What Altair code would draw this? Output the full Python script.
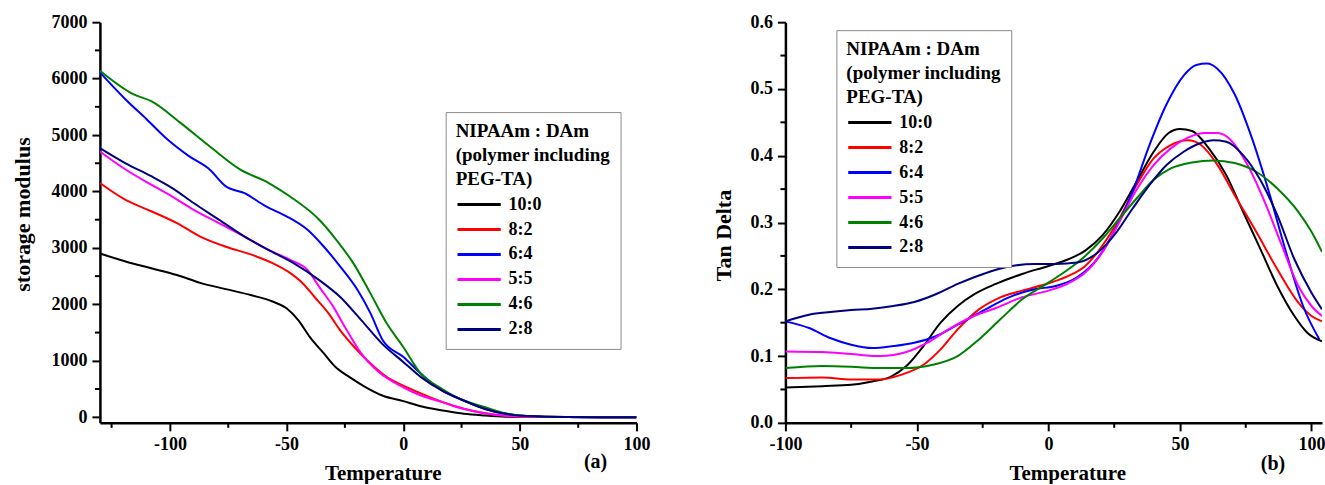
import altair as alt
import pandas as pd

SERIES = ["10:0", "8:2", "6:4", "5:5", "4:6", "2:8"]
COLORS = ["#000000", "#ff0000", "#0000ff", "#ff00ff", "#008000", "#000080"]
LEGEND_TITLE = ["NIPAAm : DAm", "(polymer including", "\u00a0PEG-TA)"]
FONT = "Liberation Serif"

# ---- (a) storage modulus vs temperature ----
sm_t_10_0 = [-130, -119, -108, -97, -87, -76, -65, -56, -50, -45, -40, -34, -29, -23, -16, -9, 0, 8, 17, 26, 35, 44, 55, 70, 85, 100]
sm_v_10_0 = [2900, 2760, 2640, 2520, 2380, 2270, 2160, 2050, 1930, 1720, 1420, 1130, 890, 710, 530, 385, 285, 190, 120, 60, 30, 10, 4, 2, 1, 0]

sm_t_8_2 = [-130, -119, -108, -97, -87, -76, -65, -56, -49, -43, -38, -32, -27, -21, -14, -7, 0, 8, 17, 26, 35, 44, 55, 70, 85, 100]
sm_v_8_2 = [4150, 3850, 3650, 3440, 3200, 3020, 2880, 2730, 2570, 2370, 2130, 1840, 1540, 1245, 950, 710, 560, 415, 267, 150, 70, 25, 8, 3, 1, 0]

sm_t_6_4 = [-130, -119, -110, -101, -92, -83, -76, -68, -59, -50, -41, -34, -27, -19.5, -14, -8.7, 0, 7.6, 16.7, 25.7, 34.8, 43.8, 53, 70, 85, 100]
sm_v_6_4 = [6110, 5630, 5280, 4920, 4630, 4390, 4090, 3970, 3740, 3560, 3320, 3020, 2670, 2250, 1840, 1360, 1070, 770, 470, 300, 150, 60, 20, 3, 1, 0]

sm_t_5_5 = [-130, -119, -108, -99, -90, -79, -68, -58, -48.5, -41, -36, -30, -25, -18, -10.5, 0, 7.6, 16.7, 25.7, 34.8, 43.8, 55, 70, 85, 100]
sm_v_5_5 = [4710, 4390, 4120, 3910, 3680, 3440, 3200, 2970, 2790, 2610, 2310, 1960, 1600, 1130, 800, 530, 385, 267, 150, 70, 25, 8, 3, 1, 0]

sm_t_4_6 = [-130, -115.5, -108, -95.6, -83, -70, -57.6, -48.5, -36, -28.6, -21.4, -14, -7, 0, 7.6, 16.7, 25.7, 34.8, 43.8, 53, 70, 85, 100]
sm_v_4_6 = [6140, 5720, 5600, 5220, 4800, 4390, 4150, 3910, 3500, 3140, 2730, 2190, 1660, 1245, 770, 500, 300, 180, 70, 20, 3, 1, 0]

sm_t_2_8 = [-130, -119, -108, -99, -90, -79, -68, -58, -47, -36, -27, -18, -9, 0, 7.6, 16.7, 25.7, 34.8, 43.8, 53, 70, 85, 100]
sm_v_2_8 = [4770, 4500, 4270, 4060, 3800, 3500, 3200, 2970, 2730, 2430, 2130, 1720, 1300, 980, 710, 470, 300, 150, 60, 20, 3, 1, 0]

# ---- (b) tan delta vs temperature ----
td_t_10_0 = [-100, -86, -75, -67, -60, -54, -47.5, -41, -34.5, -28, -20, -10, 0, 7.6, 14, 20.6, 27, 33.5, 40, 45.7, 50, 54.6, 61, 67.6, 74, 80.5, 87, 93.5, 98.4, 104]
td_v_10_0 = [0.053, 0.055, 0.057, 0.062, 0.069, 0.085, 0.115, 0.150, 0.175, 0.193, 0.208, 0.223, 0.235, 0.245, 0.258, 0.281, 0.316, 0.361, 0.406, 0.434, 0.440, 0.437, 0.411, 0.371, 0.316, 0.261, 0.205, 0.160, 0.135, 0.122]

td_t_8_2 = [-100, -86, -75, -64, -56, -47.5, -41, -34.5, -26.4, -18.3, -10, 0, 7.6, 14, 20.6, 27, 33.5, 40, 46.5, 53, 58, 64.3, 70.8, 79, 87, 95, 100, 104]
td_v_8_2 = [0.067, 0.068, 0.065, 0.065, 0.072, 0.087, 0.110, 0.140, 0.170, 0.188, 0.198, 0.209, 0.220, 0.235, 0.266, 0.306, 0.356, 0.396, 0.416, 0.423, 0.416, 0.386, 0.341, 0.286, 0.230, 0.180, 0.160, 0.152]

td_t_6_4 = [-100, -91, -83, -75, -67, -59, -51, -42.6, -34.5, -24.8, -15, -5.3, 2.8, 10.9, 19, 25.4, 32, 38.4, 44.9, 51.4, 56.2, 60.3, 64.3, 70.8, 77.3, 83.8, 90.3, 96.8, 103]
td_v_6_4 = [0.152, 0.142, 0.127, 0.117, 0.112, 0.115, 0.120, 0.130, 0.147, 0.168, 0.188, 0.200, 0.205, 0.218, 0.248, 0.290, 0.346, 0.416, 0.477, 0.520, 0.536, 0.538, 0.530, 0.492, 0.427, 0.346, 0.256, 0.175, 0.125]

td_t_5_5 = [-100, -86, -75, -64, -54, -46, -38, -30, -20, -10, 0, 7.6, 14, 20.6, 27, 33.5, 40, 46.5, 53, 59.5, 64.3, 69.2, 75.7, 82.2, 88.7, 95, 100, 104]
td_v_5_5 = [0.107, 0.106, 0.103, 0.100, 0.106, 0.120, 0.140, 0.157, 0.172, 0.188, 0.198, 0.209, 0.225, 0.256, 0.301, 0.349, 0.386, 0.411, 0.427, 0.434, 0.434, 0.424, 0.386, 0.331, 0.266, 0.205, 0.175, 0.160]

td_t_4_6 = [-100, -86, -75, -64, -54, -44, -34.5, -26.4, -18.3, -10, 0, 7.6, 14, 20.6, 27, 33.5, 40, 46.5, 54.6, 62.7, 70.8, 79, 87, 95, 100, 104]
td_v_4_6 = [0.082, 0.085, 0.084, 0.082, 0.082, 0.087, 0.100, 0.125, 0.155, 0.185, 0.210, 0.230, 0.250, 0.276, 0.306, 0.336, 0.364, 0.381, 0.390, 0.393, 0.389, 0.376, 0.351, 0.316, 0.286, 0.256]

td_t_2_8 = [-100, -91, -83, -75, -67, -59, -51, -42.6, -34.5, -24.8, -15, -5.3, 2.8, 10.9, 19, 25.4, 32, 38.4, 44.9, 51.4, 57.9, 62.7, 67.6, 74, 80.5, 87, 93.5, 100, 104]
td_v_2_8 = [0.152, 0.162, 0.166, 0.169, 0.171, 0.175, 0.181, 0.193, 0.208, 0.223, 0.234, 0.238, 0.238, 0.240, 0.256, 0.283, 0.321, 0.356, 0.386, 0.406, 0.419, 0.423, 0.421, 0.401, 0.364, 0.311, 0.245, 0.195, 0.170]

# axis tick positions (major ticks are labelled, minor ones are not)
sm_x_major = [-100, -50, 0, 50, 100]
sm_x_minor = [-125, -75, -25, 25, 75]
sm_y_major = [0, 1000, 2000, 3000, 4000, 5000, 6000, 7000]
sm_y_minor = [500, 1500, 2500, 3500, 4500, 5500, 6500]
td_x_major = [-100, -50, 0, 50, 100]
td_x_minor = [-75, -25, 25, 75]
td_y_major = [0.0, 0.1, 0.2, 0.3, 0.4, 0.5, 0.6]
td_y_minor = [0.05, 0.15, 0.25, 0.35, 0.45, 0.55]

SM = [(sm_t_10_0, sm_v_10_0), (sm_t_8_2, sm_v_8_2), (sm_t_6_4, sm_v_6_4),
      (sm_t_5_5, sm_v_5_5), (sm_t_4_6, sm_v_4_6), (sm_t_2_8, sm_v_2_8)]
TD = [(td_t_10_0, td_v_10_0), (td_t_8_2, td_v_8_2), (td_t_6_4, td_v_6_4),
      (td_t_5_5, td_v_5_5), (td_t_4_6, td_v_4_6), (td_t_2_8, td_v_2_8)]

W, H = 537, 401


def long_table(pairs):
    rows = []
    for order, (name, (ts, vs)) in enumerate(zip(SERIES, pairs)):
        for t, v in zip(ts, vs):
            rows.append({"series": name, "order": order, "temperature": t, "value": v})
    return pd.DataFrame(rows)


def axis(values, title, fmt, **extra):
    return alt.Axis(
        title=title,
        values=values,
        format=fmt,
        labelExpr="replace(datum.label, '\u2212', '-')",
        tickSize=8,
        tickWidth=2,
        tickColor="black",
        domainColor="black",
        domainWidth=2.5,
        grid=False,
        labelFont=FONT,
        labelFontSize=18,
        labelFontWeight="bold",
        labelColor="black",
        labelPadding=5,
        labelFlush=False,
        labelOverlap=False,
        titleFont=FONT,
        titleFontWeight="bold",
        titleColor="black",
        **extra,
    )


def legend(x, y):
    return alt.Legend(
        title=LEGEND_TITLE,
        orient="none",
        legendX=x,
        legendY=y,
        symbolType="M-2.5,0H2.5",
        symbolSize=300,
        symbolStrokeWidth=3,
        symbolOffset=13,
        labelFont=FONT,
        labelFontSize=18,
        labelFontWeight="bold",
        labelColor="black",
        labelOffset=19,
        titleFont=FONT,
        titleFontSize=19,
        titleFontWeight="bold",
        titleColor="black",
        titleLineHeight=24,
        titlePadding=5,
        rowPadding=5,
        padding=10,
        strokeColor="#8a8a8a",
        fillColor="white",
    )


def minor_ticks(values, channel, scale, ax):
    """Short unlabelled ticks drawn just outside the plot edge."""
    base = alt.Chart(pd.DataFrame({"tick": values})).mark_rule(
        color="black", strokeWidth=2, clip=False
    )
    if channel == "x":
        return base.encode(
            x=alt.X("tick:Q", scale=scale, axis=ax),
            y=alt.value(H), y2=alt.value(H + 5),
        )
    return base.encode(
        y=alt.Y("tick:Q", scale=scale, axis=ax),
        x=alt.value(0), x2=alt.value(-5),
    )


color_scale = alt.Scale(domain=SERIES, range=COLORS)

# panel (a)
sm_xs = alt.Scale(domain=[-130, 100], nice=False, zero=False)
sm_ys = alt.Scale(domain=[-100, 7000], nice=False, zero=False)
sm_xa = axis(sm_x_major, "Temperature", "d", titleFontSize=21, titlePadding=9, titleX=283)
sm_ya = axis(sm_y_major, "storage modulus", "d", titleFontSize=22, titlePadding=16, titleY=192)
sm_lines = alt.Chart(long_table(SM)).mark_line(strokeWidth=2, interpolate="monotone", clip=True).encode(
    x=alt.X("temperature:Q", scale=sm_xs, axis=sm_xa),
    y=alt.Y("value:Q", scale=sm_ys, axis=sm_ya),
    color=alt.Color("series:N", scale=color_scale, legend=legend(346, 90)),
    order="order:Q",
    detail="series:N",
)
tag_a = alt.Chart(pd.DataFrame({"tag": ["(a)"]})).mark_text(
    font=FONT, fontSize=20, fontWeight="bold", color="black"
).encode(text="tag:N", x=alt.value(496), y=alt.value(440))
panel_a = alt.layer(
    sm_lines, minor_ticks(sm_x_minor, "x", sm_xs, sm_xa), minor_ticks(sm_y_minor, "y", sm_ys, sm_ya), tag_a
).properties(width=W, height=H)

# panel (b)
td_xs = alt.Scale(domain=[-100, 104], nice=False, zero=False)
td_ys = alt.Scale(domain=[0, 0.6], nice=False, zero=False)
td_xa = axis(td_x_major, "Temperature", "d", titleFontSize=21, titlePadding=9, titleX=282)
td_ya = axis(td_y_major, "Tan Delta", ".1f", titleFontSize=22, titlePadding=14, titleY=213)
td_lines = alt.Chart(long_table(TD)).mark_line(strokeWidth=2, interpolate="monotone", clip=True).encode(
    x=alt.X("temperature:Q", scale=td_xs, axis=td_xa),
    y=alt.Y("value:Q", scale=td_ys, axis=td_ya),
    color=alt.Color("series:N", scale=color_scale, legend=legend(51, 8)),
    order="order:Q",
    detail="series:N",
)
tag_b = alt.Chart(pd.DataFrame({"tag": ["(b)"]})).mark_text(
    font=FONT, fontSize=20, fontWeight="bold", color="black"
).encode(text="tag:N", x=alt.value(488), y=alt.value(442))
panel_b = alt.layer(
    td_lines, minor_ticks(td_x_minor, "x", td_xs, td_xa), minor_ticks(td_y_minor, "y", td_ys, td_ya), tag_b
).properties(width=W, height=H)

chart = (
    alt.hconcat(panel_a, panel_b, spacing=62)
    .resolve_scale(color="independent")
    .properties(padding={"left": 12, "top": 13, "right": 0, "bottom": 0}, background="white")
    .configure_view(stroke=None)
)

chart.save("out.html", embed_options={"renderer": "svg", "actions": False})
